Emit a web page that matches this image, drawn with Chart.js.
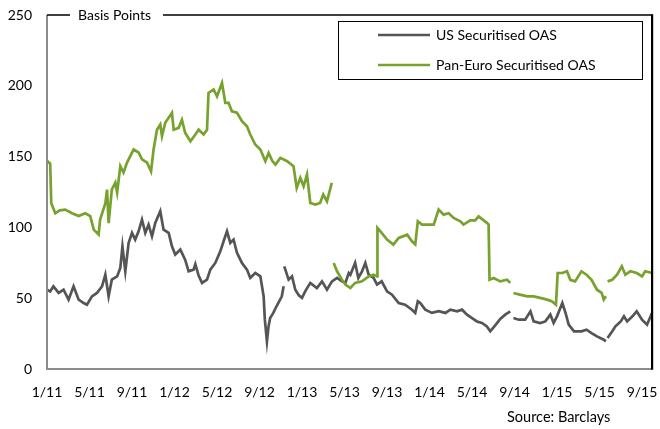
<!DOCTYPE html>
<html lang="en">
<head>
    <meta charset="UTF-8">
    <title>US vs Pan-Euro Securitised OAS</title>
    <style>
        html, body {
            margin: 0;
            padding: 0;
            background: #ffffff;
            overflow: hidden;
        }
        #chartBox {
            width: 660px;
            height: 429px;
        }
        canvas {
            display: block;
        }
    </style>
</head>
<body>
    <div id="chartBox">
        <canvas id="oasChart" width="660" height="429"></canvas>
    </div>

    <script src="https://cdn.jsdelivr.net/npm/chart.js"></script>
    <script>
        // Months since Jan 2011 (null value = gap in the series)
        const usMonths = [0, 0.3, 0.6, 1.1, 1.56, 2.03, 2.5, 2.98, 3.45, 3.76, 4.23, 4.7, 5.18, 5.49, 5.8, 6.1, 6.6, 6.9, 7.1, 7.37,
            7.68, 8.0, 8.3, 8.62, 8.94, 9.25, 9.56, 9.88, 10.19, 10.66, 10.97, 11.45, 11.76, 12.07, 12.55, 13.0, 13.33, 13.8, 13.96, 14.27,
            14.59, 15.06, 15.37, 15.84, 16.31, 16.62, 16.94, 17.25, 17.56, 17.88, 18.35, 18.82, 19.13, 19.6, 20.08, 20.39, 20.5, 20.7, 20.85, 21.0,
            21.3, 21.6, 22.1, 22.27, 22.3, 22.33, 22.74, 23.06, 23.37, 23.7, 24.0, 24.3, 24.78, 25.4, 25.88, 26.35, 26.82, 27.3, 27.76, 28.08,
            28.4, 28.55, 29.0, 29.3, 29.65, 29.96, 30.27, 30.74, 31.06, 31.5, 32.0, 32.47, 33.1, 33.7, 34.35, 34.66, 34.9, 35.13, 35.6, 36.23,
            36.86, 37.5, 37.96, 38.6, 39.06, 39.53, 40.0, 40.47, 40.94, 41.4, 41.72, 42.2, 42.66, 43.13, 43.6, 43.75, 43.9, 44.4, 45.0, 45.5,
            45.8, 46.4, 46.9, 47.37, 47.68, 48.0, 48.5, 48.8, 49.1, 49.6, 50.3, 50.78, 51.25, 51.76, 52.4, 52.6, 52.68, 52.76, 53.2, 53.5,
            54.0, 54.3, 54.6, 55.1, 55.5, 56.0, 56.47, 56.94];
        const usSpread = [56, 54.8, 58.4, 53.7, 56, 49, 58.4, 49, 46.6, 45.4, 51.3, 53.7, 58.4, 66.6, 51.3, 63.1, 65.4, 71.4, 86.6, 69,
            89, 96.1, 91.4, 97.2, 105.5, 96.1, 102, 93.7, 103.2, 111.4, 98.4, 96.1, 86.6, 80.8, 84.3, 77.2, 69, 70.2, 74, 66,
            60.8, 63.1, 70.2, 74.9, 83.1, 90.2, 97.2, 89, 91.4, 82, 74.9, 70.2, 64.3, 67.8, 65.4, 51.3, 35, 19.5, 30, 36,
            39.6, 44.3, 51.3, 58.4, null, 72.5, 63.1, 65.4, 56, 52, 50.2, 54.8, 60.8, 57.2, 61.9, 56, 61.9, 64.3, 61.9, 60.8,
            67.8, 66.6, 74.9, 64.3, 69, 74.9, 66.6, 64.3, 59.6, 61.9, 54.8, 52.5, 46.6, 45.4, 41.9, 39.6, 47.8, 46.6, 41.9, 39.6,
            40.8, 39.6, 41.9, 40.7, 41.9, 38.4, 36, 33.6, 32.5, 30.1, 26.6, 31, 35.4, 38.4, 40.7, null, 36, 34.8, 34.8, 40.7,
            33.6, 32.5, 33.6, 38.4, 32.5, 37.2, 46.6, 39.6, 31.3, 26.6, 26.6, 27.8, 25.4, 23, 20.7, 19.5, null, 21.9, 26.6, 30.1,
            33.6, 37.2, 33.6, 37.2, 40.7, 34.8, 31.3, 39.6];

        const euroMonths = [0, 0.3, 0.4, 0.78, 1.2, 1.72, 2.35, 2.98, 3.6, 4.07, 4.4, 4.86, 5.0, 5.49, 5.65, 5.8, 6.1, 6.43, 6.6, 6.9,
            7.2, 7.53, 8.15, 8.62, 8.94, 9.41, 9.79, 10.03, 10.35, 10.66, 10.82, 11.13, 11.76, 11.92, 12.39, 12.7, 13.0, 13.5, 13.96, 14.27,
            14.74, 15.06, 15.2, 15.68, 16.0, 16.47, 16.78, 17.09, 17.4, 17.88, 18.35, 18.82, 19.13, 19.6, 20.08, 20.55, 20.86, 21.2, 21.5, 21.96,
            22.6, 23.2, 23.5, 23.84, 24.15, 24.47, 24.78, 25.25, 25.7, 26.0, 26.35, 26.8, 26.9, 26.98, 27.3, 27.76, 28.08, 28.55, 29.0, 29.65,
            30.27, 30.74, 31.06, 31.1, 31.5, 32.0, 32.6, 33.1, 33.9, 34.35, 34.66, 34.9, 35.3, 35.76, 36.4, 36.86, 37.33, 37.8, 38.27, 38.9,
            39.2, 39.84, 40.3, 40.62, 41.1, 41.4, 41.56, 41.65, 42.03, 42.66, 43.3, 43.6, 43.75, 43.9, 44.5, 45.2, 45.8, 46.4, 47.06, 47.5,
            47.9, 48.06, 48.5, 48.94, 49.25, 49.7, 50.3, 50.78, 51.25, 51.76, 52.2, 52.4, 52.6, 52.68, 52.76, 53.2, 53.65, 54.1, 54.43, 54.9,
            55.5, 56.0, 56.3, 56.94];
        const euroSpread = [147, 145, 117, 110, 112, 112.6, 110, 108, 110, 108, 98.4, 95, 105.5, 117, 126.7, 103, 126.7, 131.6, 124.6, 143.2,
            138.7, 145.8, 155, 152.9, 148, 145.8, 139.6, 155, 169, 172.6, 164.4, 173.9, 180.9, 169, 170.3, 176, 166.8, 160.8, 165.6, 169,
            165.6, 169, 195, 197.4, 192.6, 202, 188, 188, 182, 181, 175, 171.4, 165.6, 158.5, 155, 146.7, 152.6, 147, 144.4, 149.1,
            146.7, 143.2, 127.9, 135, 129, 137.3, 117.3, 116.1, 117.3, 123.2, 118.4, 131.4, null, 74.9, 69, 63.1, 59.6, 57.2, 60.8, 61.9,
            65.4, 66.6, 65.4, 99.6, 96.1, 91.4, 87.8, 92.6, 94.9, 90.2, 88, 104.3, 102, 102, 102, 112.6, 109, 110, 106.7, 104.3,
            102, 105, 105, 107.8, 105, 103.2, 102, 63.1, 64.3, 61.9, 63, 60.8, null, 53.7, 52.5, 51.3, 51.3, 50.2, 49, 47.8,
            45.4, 67.8, 67.8, 69, 63, 61.9, 69, 66.6, 63, 56, 53.7, 49, 51.3, null, 61.9, 63, 66.6, 72.5, 66.6, 69,
            67.8, 65.4, 69, 67.8];

        const tickMonths = [0, 4, 8, 12, 16, 20, 24, 28, 32, 36, 40, 44, 48, 52, 56];
        const tickLabels = ['1/11', '5/11', '9/11', '1/12', '5/12', '9/12', '1/13', '5/13', '9/13', '1/14', '5/14', '9/14', '1/15', '5/15', '9/15'];

        const usColor = '#555555';
        const euroColor = '#77a22e';
        const font = 'Lato, "Open Sans", sans-serif';

        function toPoints(xs, ys) {
            return xs.map((x, i) => ({ x: x, y: ys[i] }));
        }

        // keep the plot area exactly where the layout padding puts it
        function noOverhang(scale) {
            scale.paddingLeft = 0;
            scale.paddingRight = 0;
            scale.paddingTop = 0;
            scale.paddingBottom = 0;
        }

        // Frame, "Basis Points" label, boxed legend and source note
        const decorations = {
            id: 'decorations',
            afterDraw(chart) {
                const ctx = chart.ctx;
                const a = chart.chartArea;
                ctx.save();

                // left + bottom axis (grey)
                ctx.strokeStyle = '#8c8c8c';
                ctx.lineWidth = 2;
                ctx.beginPath();
                ctx.moveTo(a.left, a.top);
                ctx.lineTo(a.left, a.bottom);
                ctx.lineTo(a.right, a.bottom);
                ctx.stroke();

                // top (with gap for label) + right border (black)
                ctx.strokeStyle = '#000000';
                ctx.lineWidth = 1.5;
                ctx.beginPath();
                ctx.moveTo(a.left, a.top);
                ctx.lineTo(70, a.top);
                ctx.moveTo(163, a.top);
                ctx.lineTo(a.right, a.top);
                ctx.stroke();
                ctx.fillStyle = '#000000';
                ctx.fillRect(a.right - 1, a.top - 0.75, 2.2, a.bottom - a.top + 1.5);

                ctx.font = '14px ' + font;
                ctx.textBaseline = 'middle';
                ctx.textAlign = 'left';
                ctx.fillText('Basis Points', 78, a.top);

                // legend box
                ctx.fillStyle = '#ffffff';
                ctx.fillRect(338.5, 21.5, 304, 58);
                ctx.strokeStyle = '#000000';
                ctx.lineWidth = 1;
                ctx.strokeRect(338.5, 21.5, 304, 58);

                const items = [[usColor, 'US Securitised OAS', 35], [euroColor, 'Pan-Euro Securitised OAS', 65]];
                items.forEach(([col, label, y]) => {
                    ctx.strokeStyle = col;
                    ctx.lineWidth = 2.5;
                    ctx.beginPath();
                    ctx.moveTo(378, y);
                    ctx.lineTo(430, y);
                    ctx.stroke();
                    ctx.fillStyle = '#000000';
                    ctx.fillText(label, 436, y);
                });

                // source
                ctx.font = '14.5px ' + font;
                ctx.fillText('Source: Barclays', 507, 417);
                ctx.restore();
            }
        };

        const ctx = document.getElementById('oasChart').getContext('2d');
        const oasChart = new Chart(ctx, {
            type: 'line',
            data: {
                datasets: [
                    {
                        label: 'Pan-Euro Securitised OAS',
                        data: toPoints(euroMonths, euroSpread),
                        borderColor: euroColor,
                        borderWidth: 2.7,
                        pointRadius: 0,
                        tension: 0,
                        spanGaps: false
                    },
                    {
                        label: 'US Securitised OAS',
                        data: toPoints(usMonths, usSpread),
                        borderColor: usColor,
                        borderWidth: 2.7,
                        pointRadius: 0,
                        tension: 0,
                        spanGaps: false
                    }
                ]
            },
            options: {
                responsive: false,
                animation: false,
                layout: { padding: { left: 0, right: 8, top: 15, bottom: 0 } },
                plugins: {
                    legend: { display: false },
                    tooltip: { enabled: false }
                },
                scales: {
                    x: {
                        type: 'linear',
                        min: 0,
                        max: 56.94,
                        grid: { display: false, drawTicks: false },
                        border: { display: false },
                        afterBuildTicks: (scale) => {
                            scale.ticks = tickMonths.map(v => ({ value: v }));
                        },
                        afterFit: (scale) => { scale.height = 60; noOverhang(scale); },
                        ticks: {
                            padding: 15,
                            maxRotation: 0,
                            autoSkip: false,
                            color: '#000000',
                            font: { family: font, size: 14 },
                            callback: (value) => tickLabels[tickMonths.indexOf(value)]
                        }
                    },
                    y: {
                        min: 0,
                        max: 250,
                        grid: { display: false, drawTicks: false },
                        border: { display: false },
                        afterFit: (scale) => { scale.width = 47; noOverhang(scale); },
                        ticks: {
                            stepSize: 50,
                            padding: 15,
                            color: '#000000',
                            font: { family: font, size: 14 }
                        }
                    }
                }
            },
            plugins: [decorations]
        });
    </script>
</body>
</html>
